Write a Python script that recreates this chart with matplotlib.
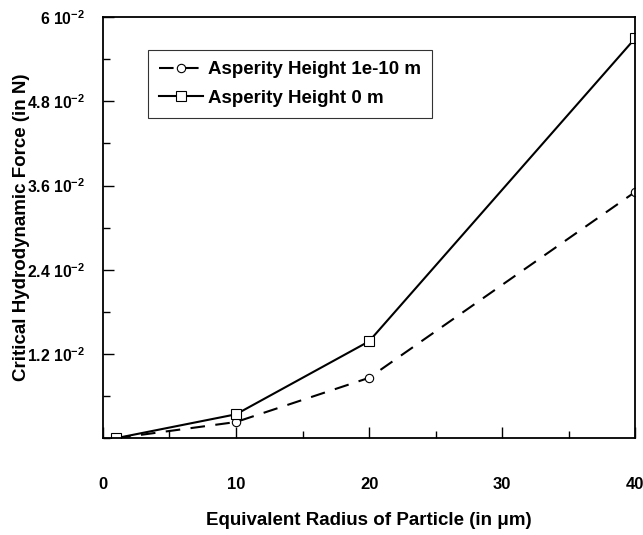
import matplotlib
matplotlib.use("Agg")
import matplotlib.pyplot as plt
from matplotlib.ticker import MultipleLocator, FixedLocator

plt.rcParams['font.family'] = ['Liberation Sans', 'DejaVu Sans']
plt.rcParams['font.weight'] = 'bold'
plt.rcParams['mathtext.fontset'] = 'custom'
plt.rcParams['mathtext.rm'] = 'Liberation Sans:bold'
plt.rcParams['mathtext.bf'] = 'Liberation Sans:bold'
plt.rcParams['mathtext.it'] = 'Liberation Sans:bold'

# data
radius = [1, 10, 20, 40]
force_rough = [0.0, 0.0023, 0.0086, 0.0351]   # asperity height 1e-10 m
force_smooth = [0.0, 0.0034, 0.0138, 0.0570]  # asperity height 0 m

yticks = [0.012, 0.024, 0.036, 0.048, 0.06]
ytick_labels = [r'1.2 10$^{-2}$', r'2.4 10$^{-2}$', r'3.6 10$^{-2}$',
                r'4.8 10$^{-2}$', r'6 10$^{-2}$']
xticks = [0, 10, 20, 30, 40]

fig = plt.figure(figsize=(6.43, 5.35), dpi=100)
ax = fig.add_axes([0.160, 0.181, 0.828, 0.787])

ax.plot(radius, force_rough, 'k--', lw=1.5, dashes=(7, 5), marker='o',
        ms=6, mfc='white', mec='black', mew=0.8,
        label='Asperity Height 1e-10 m')
ax.plot(radius, force_smooth, 'k-', lw=1.5, marker='s',
        ms=7, mfc='white', mec='black', mew=0.8,
        label='Asperity Height 0 m')

ax.set_xlim(0, 40)
ax.set_ylim(0, 0.06)
ax.xaxis.set_major_locator(FixedLocator(xticks))
ax.xaxis.set_minor_locator(MultipleLocator(5))
ax.yaxis.set_major_locator(FixedLocator(yticks))
ax.yaxis.set_minor_locator(MultipleLocator(0.006))
ax.set_yticklabels(ytick_labels)
ax.set_xticklabels([str(v) for v in xticks])

ax.tick_params(which='both', direction='in', top=False, right=False)
ax.tick_params(which='major', length=8, width=1)
ax.tick_params(which='minor', length=5, width=1)
ax.tick_params(axis='x', which='major', pad=28, labelsize=12)
ax.tick_params(axis='y', which='major', pad=13, labelsize=11.3)
for s in ax.spines.values():
    s.set_linewidth(1.3)

ax.set_xlabel('Equivalent Radius of Particle (in \u03bcm)', fontsize=13.5,
              fontweight='bold')
ax.set_ylabel('Critical Hydrodynamic Force (in N)', fontsize=13.5,
              fontweight='bold')
ax.xaxis.set_label_coords(0.5, -0.175)
ax.yaxis.set_label_coords(-0.136, 0.5)

leg = ax.legend(loc='upper left', bbox_to_anchor=(0.085, 0.922), fontsize=13.5,
                frameon=True, fancybox=False, edgecolor='black',
                handlelength=2.3, handletextpad=0.3, borderpad=0.6,
                labelspacing=0.6, borderaxespad=0)
leg.get_frame().set_linewidth(0.8)

fig.savefig('out.png', dpi=100)
